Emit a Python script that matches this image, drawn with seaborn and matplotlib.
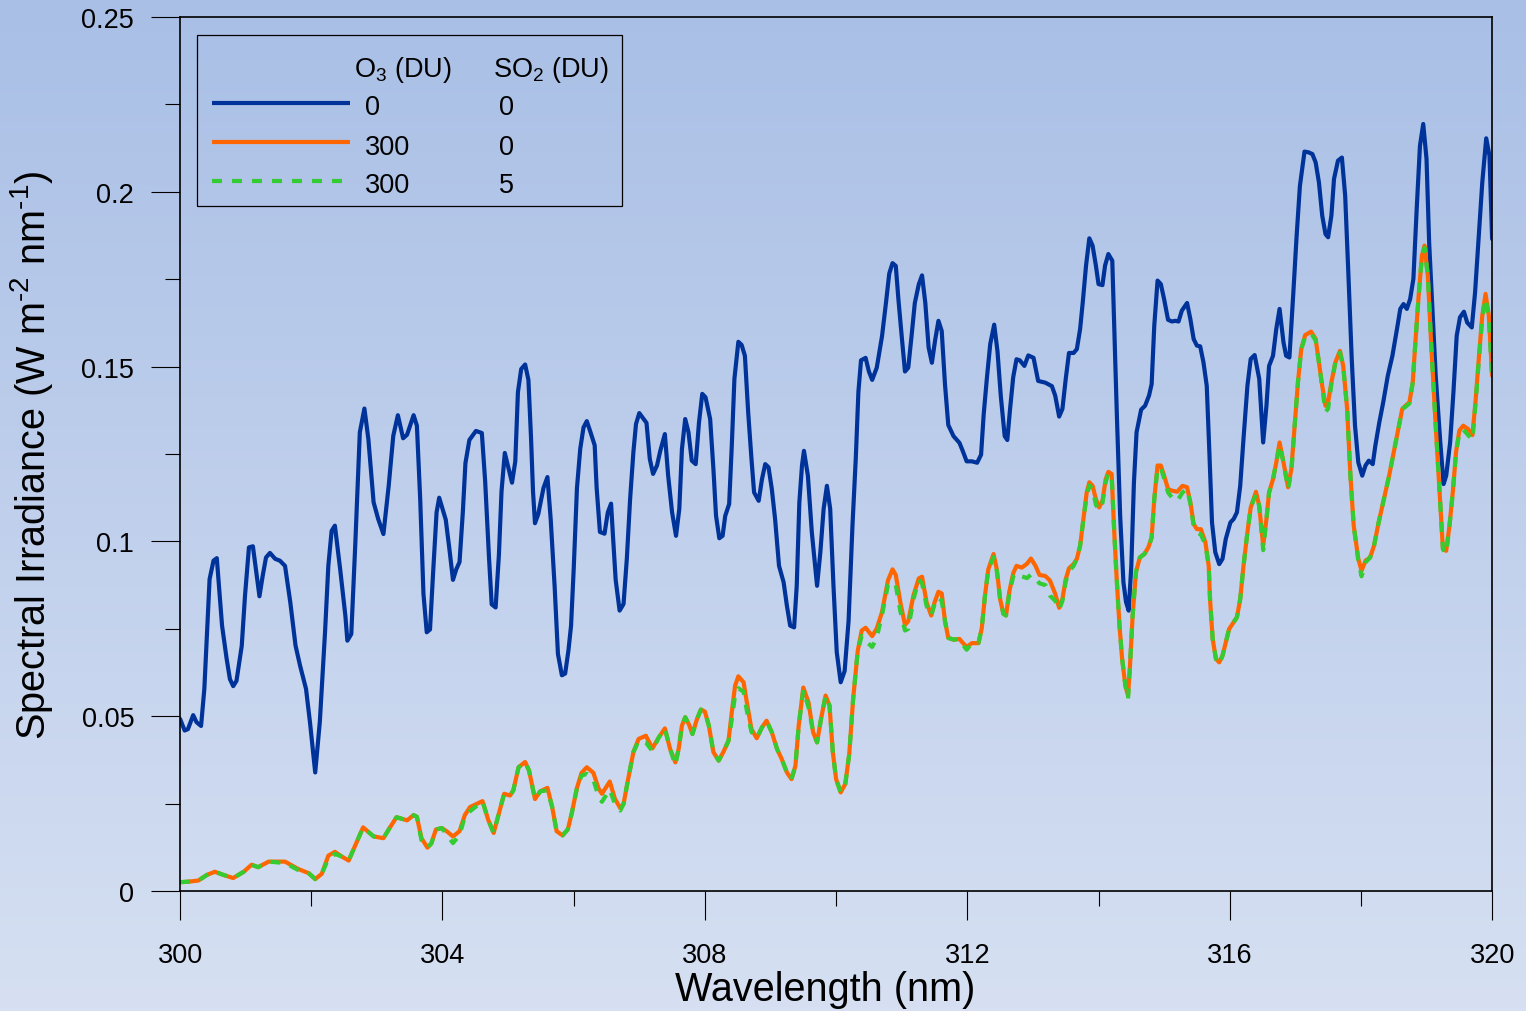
import matplotlib
matplotlib.use("Agg")
import matplotlib.pyplot as plt
import numpy as np
import pandas as pd
import seaborn as sns
from matplotlib.colors import LinearSegmentedColormap
from matplotlib.lines import Line2D
from matplotlib.patches import Rectangle
from matplotlib.ticker import FixedLocator, FuncFormatter

# --- data -------------------------------------------------------------------
# O3 = 0 DU, SO2 = 0 DU
BLUE_WL = [
    300.00, 300.07, 300.12, 300.20, 300.25, 300.32, 300.37, 300.45, 300.51, 300.56,
    300.64, 300.71, 300.76, 300.81, 300.86, 300.94, 300.99, 301.05, 301.11, 301.21,
    301.26, 301.31, 301.37, 301.45, 301.52, 301.60, 301.68, 301.76, 301.83, 301.92,
    301.98, 302.06, 302.13, 302.21, 302.26, 302.31, 302.36, 302.44, 302.52, 302.55,
    302.61, 302.67, 302.74, 302.81, 302.87, 302.95, 303.02, 303.10, 303.18, 303.25,
    303.32, 303.40, 303.46, 303.56, 303.61, 303.66, 303.71, 303.76, 303.81, 303.86,
    303.91, 303.95, 304.05, 304.11, 304.16, 304.21, 304.26, 304.31, 304.35, 304.41,
    304.51, 304.60, 304.65, 304.71, 304.75, 304.81, 304.86, 304.90, 304.95, 305.00,
    305.06, 305.11, 305.15, 305.20, 305.26, 305.31, 305.35, 305.38, 305.41, 305.46,
    305.54, 305.60, 305.65, 305.71, 305.76, 305.82, 305.87, 305.92, 305.96, 306.00,
    306.05, 306.10, 306.15, 306.20, 306.25, 306.32, 306.35, 306.40, 306.47, 306.52,
    306.57, 306.60, 306.64, 306.70, 306.76, 306.81, 306.86, 306.91, 306.95, 307.00,
    307.06, 307.11, 307.16, 307.21, 307.27, 307.32, 307.39, 307.44, 307.50, 307.56,
    307.61, 307.65, 307.70, 307.75, 307.80, 307.86, 307.91, 307.96, 308.01, 308.08,
    308.13, 308.17, 308.22, 308.27, 308.31, 308.37, 308.41, 308.45, 308.51, 308.56,
    308.61, 308.66, 308.71, 308.75, 308.82, 308.87, 308.92, 308.97, 309.02, 309.07,
    309.13, 309.20, 309.25, 309.30, 309.36, 309.40, 309.44, 309.48, 309.51, 309.57,
    309.63, 309.71, 309.76, 309.81, 309.86, 309.91, 309.96, 310.01, 310.07, 310.13,
    310.19, 310.25, 310.30, 310.34, 310.38, 310.45, 310.50, 310.55, 310.62, 310.70,
    310.76, 310.81, 310.86, 310.91, 310.95, 311.00, 311.05, 311.10, 311.15, 311.20,
    311.26, 311.31, 311.36, 311.41, 311.46, 311.51, 311.56, 311.61, 311.66, 311.71,
    311.79, 311.88, 311.93, 311.99, 312.07, 312.15, 312.21, 312.25, 312.30, 312.35,
    312.41, 312.46, 312.51, 312.57, 312.61, 312.65, 312.70, 312.75, 312.80, 312.87,
    312.93, 313.01, 313.08, 313.19, 313.29, 313.34, 313.40, 313.45, 313.50, 313.55,
    313.62, 313.67, 313.72, 313.76, 313.81, 313.86, 313.91, 313.96, 314.00, 314.06,
    314.10, 314.15, 314.21, 314.24, 314.28, 314.33, 314.38, 314.42, 314.46, 314.50,
    314.54, 314.58, 314.65, 314.71, 314.77, 314.81, 314.85, 314.90, 314.95, 315.00,
    315.06, 315.12, 315.17, 315.22, 315.27, 315.35, 315.40, 315.45, 315.50, 315.55,
    315.60, 315.65, 315.69, 315.73, 315.78, 315.84, 315.89, 315.94, 316.01, 316.06,
    316.11, 316.16, 316.21, 316.27, 316.32, 316.38, 316.45, 316.51, 316.56, 316.60,
    316.66, 316.71, 316.76, 316.82, 316.86, 316.91, 316.97, 317.02, 317.07, 317.14,
    317.20, 317.26, 317.31, 317.36, 317.41, 317.46, 317.50, 317.55, 317.59, 317.65,
    317.71, 317.76, 317.81, 317.86, 317.91, 317.96, 318.02, 318.07, 318.12, 318.18,
    318.22, 318.28, 318.34, 318.41, 318.48, 318.55, 318.60, 318.65, 318.70, 318.75,
    318.80, 318.85, 318.90, 318.95, 319.00, 319.04, 319.09, 319.14, 319.21, 319.26,
    319.30, 319.36, 319.41, 319.46, 319.51, 319.57, 319.62, 319.69, 319.74, 319.79,
    319.85, 319.91, 319.96, 320.00,
]
BLUE_IRR = [
    0.0492, 0.0459, 0.0463, 0.0503, 0.0483, 0.0472, 0.0578, 0.0892, 0.0945, 0.0952,
    0.0759, 0.0664, 0.0606, 0.0586, 0.0601, 0.0701, 0.0845, 0.0983, 0.0986, 0.0843,
    0.0902, 0.0954, 0.0967, 0.0950, 0.0945, 0.0930, 0.0826, 0.0702, 0.0644, 0.0578,
    0.0483, 0.0339, 0.0483, 0.0741, 0.0930, 0.1030, 0.1045, 0.0921, 0.0787, 0.0716,
    0.0735, 0.0988, 0.1312, 0.1380, 0.1293, 0.1112, 0.1064, 0.1021, 0.1159, 0.1302,
    0.1361, 0.1295, 0.1305, 0.1361, 0.1331, 0.1123, 0.0850, 0.0740, 0.0748, 0.0920,
    0.1083, 0.1125, 0.1062, 0.0971, 0.0890, 0.0920, 0.0941, 0.1083, 0.1224, 0.1290,
    0.1316, 0.1310, 0.1174, 0.0951, 0.0820, 0.0811, 0.0961, 0.1143, 0.1253, 0.1214,
    0.1168, 0.1229, 0.1427, 0.1493, 0.1506, 0.1462, 0.1295, 0.1143, 0.1052, 0.1078,
    0.1153, 0.1184, 0.1062, 0.0870, 0.0678, 0.0617, 0.0622, 0.0688, 0.0759, 0.0920,
    0.1153, 0.1265, 0.1326, 0.1344, 0.1316, 0.1275, 0.1153, 0.1027, 0.1022, 0.1083,
    0.1108, 0.1012, 0.0890, 0.0802, 0.0821, 0.0950, 0.1121, 0.1255, 0.1336, 0.1367,
    0.1352, 0.1339, 0.1236, 0.1193, 0.1217, 0.1259, 0.1307, 0.1188, 0.1083, 0.1016,
    0.1093, 0.1264, 0.1350, 0.1312, 0.1231, 0.1221, 0.1340, 0.1422, 0.1412, 0.1350,
    0.1207, 0.1073, 0.1009, 0.1016, 0.1073, 0.1107, 0.1274, 0.1465, 0.1571, 0.1562,
    0.1531, 0.1369, 0.1236, 0.1140, 0.1116, 0.1178, 0.1221, 0.1212, 0.1150, 0.1064,
    0.0930, 0.0883, 0.0816, 0.0759, 0.0754, 0.0873, 0.1112, 0.1217, 0.1259, 0.1188,
    0.1026, 0.0873, 0.0969, 0.1093, 0.1159, 0.1093, 0.0873, 0.0683, 0.0597, 0.0629,
    0.0772, 0.1047, 0.1237, 0.1428, 0.1518, 0.1525, 0.1486, 0.1462, 0.1497, 0.1587,
    0.1682, 0.1766, 0.1796, 0.1788, 0.1692, 0.1587, 0.1486, 0.1497, 0.1587, 0.1682,
    0.1735, 0.1761, 0.1682, 0.1555, 0.1511, 0.1576, 0.1631, 0.1602, 0.1449, 0.1333,
    0.1301, 0.1282, 0.1259, 0.1229, 0.1229, 0.1225, 0.1248, 0.1364, 0.1470, 0.1565,
    0.1620, 0.1544, 0.1417, 0.1301, 0.1290, 0.1375, 0.1470, 0.1521, 0.1518, 0.1502,
    0.1532, 0.1525, 0.1459, 0.1454, 0.1444, 0.1417, 0.1357, 0.1379, 0.1464, 0.1539,
    0.1539, 0.1550, 0.1608, 0.1684, 0.1789, 0.1867, 0.1846, 0.1789, 0.1736, 0.1733,
    0.1789, 0.1822, 0.1803, 0.1617, 0.1360, 0.1073, 0.0883, 0.0826, 0.0802, 0.0930,
    0.1169, 0.1312, 0.1377, 0.1388, 0.1417, 0.1450, 0.1617, 0.1746, 0.1736, 0.1693,
    0.1634, 0.1629, 0.1631, 0.1629, 0.1660, 0.1682, 0.1636, 0.1579, 0.1560, 0.1558,
    0.1512, 0.1445, 0.1255, 0.1054, 0.0969, 0.0935, 0.0950, 0.1007, 0.1054, 0.1064,
    0.1083, 0.1159, 0.1293, 0.1445, 0.1522, 0.1533, 0.1465, 0.1283, 0.1388, 0.1502,
    0.1531, 0.1608, 0.1665, 0.1569, 0.1531, 0.1526, 0.1712, 0.1874, 0.2017, 0.2115,
    0.2113, 0.2108, 0.2084, 0.2027, 0.1932, 0.1879, 0.1870, 0.1932, 0.2037, 0.2089,
    0.2098, 0.1989, 0.1760, 0.1522, 0.1331, 0.1226, 0.1188, 0.1217, 0.1231, 0.1221,
    0.1274, 0.1340, 0.1398, 0.1474, 0.1531, 0.1608, 0.1665, 0.1679, 0.1665, 0.1693,
    0.1751, 0.1950, 0.2132, 0.2194, 0.2094, 0.1855, 0.1665, 0.1474, 0.1283, 0.1164,
    0.1188, 0.1283, 0.1426, 0.1588, 0.1641, 0.1657, 0.1626, 0.1612, 0.1712, 0.1855,
    0.2027, 0.2153, 0.2103, 0.1865,
]

# O3 = 300 DU (SO2 = 0 and SO2 = 5 share this wavelength grid)
O3_WL = [
    300.00, 300.15, 300.28, 300.41, 300.53, 300.66, 300.81, 300.97, 301.09, 301.19,
    301.35, 301.60, 301.80, 301.96, 302.06, 302.16, 302.26, 302.36, 302.46, 302.57,
    302.69, 302.79, 302.95, 303.10, 303.20, 303.30, 303.46, 303.56, 303.61, 303.68,
    303.77, 303.83, 303.90, 303.99, 304.07, 304.16, 304.26, 304.34, 304.42, 304.61,
    304.70, 304.78, 304.86, 304.94, 305.03, 305.08, 305.16, 305.26, 305.32, 305.41,
    305.49, 305.60, 305.67, 305.74, 305.83, 305.91, 305.97, 306.05, 306.12, 306.20,
    306.30, 306.38, 306.43, 306.55, 306.63, 306.71, 306.76, 306.83, 306.91, 306.99,
    307.10, 307.20, 307.29, 307.39, 307.47, 307.55, 307.60, 307.65, 307.70, 307.76,
    307.81, 307.88, 307.94, 308.00, 308.06, 308.13, 308.21, 308.28, 308.36, 308.41,
    308.46, 308.51, 308.59, 308.64, 308.71, 308.79, 308.87, 308.94, 309.02, 309.10,
    309.17, 309.25, 309.32, 309.38, 309.43, 309.50, 309.58, 309.65, 309.71, 309.77,
    309.84, 309.90, 309.95, 310.00, 310.07, 310.14, 310.20, 310.26, 310.33, 310.39,
    310.45, 310.55, 310.62, 310.70, 310.79, 310.86, 310.91, 310.98, 311.05, 311.10,
    311.18, 311.26, 311.31, 311.38, 311.45, 311.50, 311.56, 311.61, 311.66, 311.71,
    311.79, 311.88, 311.93, 311.99, 312.07, 312.17, 312.22, 312.27, 312.32, 312.40,
    312.45, 312.50, 312.55, 312.59, 312.64, 312.70, 312.75, 312.83, 312.91, 312.97,
    313.04, 313.10, 313.19, 313.26, 313.34, 313.40, 313.45, 313.50, 313.55, 313.62,
    313.67, 313.72, 313.77, 313.82, 313.86, 313.91, 313.96, 314.01, 314.06, 314.11,
    314.15, 314.20, 314.24, 314.28, 314.32, 314.36, 314.41, 314.45, 314.48, 314.52,
    314.57, 314.63, 314.70, 314.76, 314.81, 314.85, 314.90, 314.95, 315.00, 315.06,
    315.12, 315.20, 315.28, 315.35, 315.40, 315.45, 315.50, 315.56, 315.63, 315.68,
    315.70, 315.74, 315.79, 315.84, 315.89, 315.94, 315.99, 316.06, 316.11, 316.16,
    316.21, 316.27, 316.32, 316.40, 316.45, 316.51, 316.56, 316.60, 316.66, 316.71,
    316.76, 316.82, 316.89, 316.94, 316.99, 317.04, 317.09, 317.15, 317.24, 317.31,
    317.36, 317.41, 317.46, 317.50, 317.55, 317.61, 317.68, 317.73, 317.79, 317.84,
    317.89, 317.96, 318.01, 318.07, 318.14, 318.20, 318.27, 318.35, 318.43, 318.50,
    318.57, 318.63, 318.68, 318.74, 318.79, 318.83, 318.88, 318.93, 318.97, 319.02,
    319.07, 319.14, 319.20, 319.25, 319.30, 319.35, 319.40, 319.45, 319.50, 319.56,
    319.63, 319.70, 319.75, 319.80, 319.85, 319.90, 319.95, 320.00,
]
O3_IRR = [
    0.0025, 0.0027, 0.0030, 0.0046, 0.0055, 0.0046, 0.0037, 0.0055, 0.0075, 0.0068,
    0.0084, 0.0084, 0.0063, 0.0051, 0.0034, 0.0049, 0.0101, 0.0112, 0.0099, 0.0087,
    0.0139, 0.0182, 0.0156, 0.0151, 0.0182, 0.0211, 0.0202, 0.0217, 0.0212, 0.0151,
    0.0124, 0.0136, 0.0176, 0.0180, 0.0170, 0.0156, 0.0171, 0.0217, 0.0240, 0.0257,
    0.0202, 0.0166, 0.0222, 0.0278, 0.0273, 0.0288, 0.0354, 0.0369, 0.0344, 0.0263,
    0.0285, 0.0295, 0.0242, 0.0171, 0.0159, 0.0176, 0.0222, 0.0295, 0.0338, 0.0354,
    0.0338, 0.0293, 0.0278, 0.0313, 0.0263, 0.0237, 0.0249, 0.0320, 0.0397, 0.0435,
    0.0444, 0.0408, 0.0437, 0.0465, 0.0406, 0.0368, 0.0406, 0.0473, 0.0497, 0.0475,
    0.0449, 0.0492, 0.0519, 0.0513, 0.0473, 0.0397, 0.0373, 0.0397, 0.0430, 0.0511,
    0.0587, 0.0614, 0.0597, 0.0539, 0.0463, 0.0437, 0.0468, 0.0487, 0.0454, 0.0406,
    0.0378, 0.0339, 0.0320, 0.0358, 0.0473, 0.0582, 0.0539, 0.0454, 0.0425, 0.0492,
    0.0559, 0.0530, 0.0397, 0.0320, 0.0282, 0.0306, 0.0391, 0.0550, 0.0687, 0.0745,
    0.0753, 0.0729, 0.0751, 0.0798, 0.0888, 0.0920, 0.0904, 0.0825, 0.0761, 0.0772,
    0.0846, 0.0894, 0.0899, 0.0825, 0.0788, 0.0825, 0.0856, 0.0851, 0.0772, 0.0724,
    0.0719, 0.0721, 0.0710, 0.0698, 0.0709, 0.0709, 0.0751, 0.0846, 0.0920, 0.0964,
    0.0920, 0.0835, 0.0793, 0.0788, 0.0856, 0.0909, 0.0930, 0.0925, 0.0936, 0.0951,
    0.0930, 0.0904, 0.0901, 0.0888, 0.0850, 0.0810, 0.0835, 0.0892, 0.0923, 0.0935,
    0.0950, 0.0988, 0.1064, 0.1140, 0.1169, 0.1159, 0.1121, 0.1097, 0.1116, 0.1178,
    0.1199, 0.1193, 0.1026, 0.0883, 0.0759, 0.0664, 0.0587, 0.0559, 0.0644, 0.0787,
    0.0912, 0.0954, 0.0964, 0.0983, 0.1011, 0.1121, 0.1217, 0.1217, 0.1188, 0.1150,
    0.1145, 0.1142, 0.1159, 0.1155, 0.1112, 0.1050, 0.1035, 0.1035, 0.0997, 0.0930,
    0.0835, 0.0721, 0.0664, 0.0654, 0.0673, 0.0711, 0.0749, 0.0769, 0.0783, 0.0835,
    0.0930, 0.1026, 0.1097, 0.1142, 0.1102, 0.0988, 0.1064, 0.1140, 0.1178, 0.1226,
    0.1283, 0.1226, 0.1155, 0.1207, 0.1331, 0.1455, 0.1550, 0.1590, 0.1600, 0.1579,
    0.1512, 0.1445, 0.1388, 0.1398, 0.1455, 0.1512, 0.1545, 0.1502, 0.1379, 0.1188,
    0.1045, 0.0950, 0.0916, 0.0945, 0.0954, 0.0988, 0.1054, 0.1121, 0.1188, 0.1255,
    0.1322, 0.1379, 0.1388, 0.1398, 0.1455, 0.1569, 0.1703, 0.1817, 0.1846, 0.1760,
    0.1569, 0.1331, 0.1140, 0.0978, 0.0973, 0.1045, 0.1140, 0.1255, 0.1317, 0.1331,
    0.1322, 0.1304, 0.1407, 0.1531, 0.1646, 0.1708, 0.1646, 0.1474,
]
O3_SO2_IRR = [
    0.0025, 0.0027, 0.0030, 0.0046, 0.0055, 0.0046, 0.0037, 0.0055, 0.0075, 0.0068,
    0.0084, 0.0080, 0.0060, 0.0051, 0.0034, 0.0049, 0.0092, 0.0106, 0.0099, 0.0087,
    0.0139, 0.0182, 0.0156, 0.0151, 0.0182, 0.0211, 0.0202, 0.0217, 0.0212, 0.0145,
    0.0124, 0.0136, 0.0176, 0.0180, 0.0160, 0.0137, 0.0160, 0.0212, 0.0228, 0.0257,
    0.0202, 0.0166, 0.0222, 0.0278, 0.0273, 0.0288, 0.0354, 0.0369, 0.0344, 0.0263,
    0.0285, 0.0288, 0.0242, 0.0171, 0.0159, 0.0176, 0.0222, 0.0295, 0.0330, 0.0335,
    0.0318, 0.0270, 0.0255, 0.0290, 0.0248, 0.0230, 0.0249, 0.0320, 0.0397, 0.0430,
    0.0425, 0.0400, 0.0437, 0.0465, 0.0406, 0.0360, 0.0406, 0.0473, 0.0497, 0.0475,
    0.0449, 0.0492, 0.0519, 0.0513, 0.0473, 0.0397, 0.0373, 0.0397, 0.0430, 0.0490,
    0.0560, 0.0580, 0.0570, 0.0515, 0.0455, 0.0437, 0.0468, 0.0487, 0.0454, 0.0406,
    0.0378, 0.0339, 0.0320, 0.0358, 0.0473, 0.0575, 0.0525, 0.0454, 0.0425, 0.0492,
    0.0559, 0.0530, 0.0397, 0.0320, 0.0282, 0.0306, 0.0391, 0.0550, 0.0687, 0.0730,
    0.0715, 0.0698, 0.0725, 0.0790, 0.0875, 0.0885, 0.0875, 0.0800, 0.0745, 0.0750,
    0.0835, 0.0890, 0.0880, 0.0815, 0.0788, 0.0820, 0.0840, 0.0830, 0.0772, 0.0724,
    0.0719, 0.0721, 0.0705, 0.0690, 0.0709, 0.0709, 0.0751, 0.0846, 0.0920, 0.0955,
    0.0915, 0.0835, 0.0793, 0.0788, 0.0850, 0.0900, 0.0910, 0.0900, 0.0895, 0.0905,
    0.0895, 0.0880, 0.0875, 0.0845, 0.0830, 0.0805, 0.0830, 0.0885, 0.0915, 0.0930,
    0.0950, 0.0988, 0.1064, 0.1130, 0.1160, 0.1150, 0.1105, 0.1090, 0.1110, 0.1170,
    0.1195, 0.1190, 0.1026, 0.0883, 0.0759, 0.0664, 0.0587, 0.0550, 0.0644, 0.0787,
    0.0912, 0.0954, 0.0964, 0.0983, 0.1011, 0.1121, 0.1210, 0.1210, 0.1180, 0.1140,
    0.1125, 0.1115, 0.1140, 0.1150, 0.1108, 0.1045, 0.1025, 0.1020, 0.0990, 0.0930,
    0.0835, 0.0721, 0.0664, 0.0648, 0.0673, 0.0711, 0.0749, 0.0769, 0.0783, 0.0835,
    0.0930, 0.1026, 0.1097, 0.1135, 0.1102, 0.0975, 0.1064, 0.1140, 0.1178, 0.1226,
    0.1275, 0.1226, 0.1150, 0.1200, 0.1331, 0.1455, 0.1550, 0.1585, 0.1595, 0.1575,
    0.1512, 0.1440, 0.1370, 0.1380, 0.1450, 0.1512, 0.1540, 0.1500, 0.1379, 0.1188,
    0.1045, 0.0945, 0.0900, 0.0940, 0.0954, 0.0988, 0.1054, 0.1121, 0.1188, 0.1255,
    0.1322, 0.1379, 0.1385, 0.1395, 0.1455, 0.1569, 0.1703, 0.1817, 0.1840, 0.1760,
    0.1569, 0.1331, 0.1140, 0.0978, 0.0965, 0.1045, 0.1140, 0.1255, 0.1310, 0.1320,
    0.1305, 0.1290, 0.1400, 0.1525, 0.1640, 0.1695, 0.1640, 0.1465,
]

LEGEND_O3 = ["0", "300", "300"]
LEGEND_SO2 = ["0", "0", "5"]
X_TICKS = [300, 304, 308, 312, 316, 320]
X_MINOR = [302, 306, 310, 314, 318]
Y_TICKS = [0, 0.05, 0.1, 0.15, 0.2, 0.25]
Y_MINOR = [0.025, 0.075, 0.125, 0.175, 0.225]

BLUE = "#003399"
ORANGE = "#FF6600"
GREEN = "#33CC33"

# --- style --------------------------------------------------------------------
sns.set_theme(style="ticks")
plt.rcParams["font.family"] = ["Liberation Sans", "DejaVu Sans"]
plt.rcParams["mathtext.fontset"] = "custom"
plt.rcParams["mathtext.rm"] = "Liberation Sans"
plt.rcParams["mathtext.it"] = "Liberation Sans:italic"
plt.rcParams["mathtext.bf"] = "Liberation Sans:bold"

fig = plt.figure(figsize=(15.26, 10.12), dpi=100)

# vertical background gradient behind everything
bg = fig.add_axes([0, 0, 1, 1], zorder=-1)
grad = np.linspace(0, 1, 256).reshape(-1, 1)
bg.imshow(grad, aspect="auto", extent=[0, 1, 0, 1],
          cmap=LinearSegmentedColormap.from_list("bg", ["#A9BFE6", "#D6E0F2"]))
bg.axis("off")

ax = fig.add_axes([0.118, 0.1186, 0.8598, 0.8636])
ax.patch.set_alpha(0)

blue_df = pd.DataFrame({"wl": BLUE_WL, "irr": BLUE_IRR})
o3_df = pd.DataFrame({"wl": O3_WL, "irr": O3_IRR, "irr_so2": O3_SO2_IRR})

sns.lineplot(data=blue_df, x="wl", y="irr", ax=ax, color=BLUE, lw=3.0,
             estimator=None, sort=False)
sns.lineplot(data=o3_df, x="wl", y="irr", ax=ax, color=ORANGE, lw=3.0,
             estimator=None, sort=False)
sns.lineplot(data=o3_df, x="wl", y="irr_so2", ax=ax, color=GREEN, lw=3.0,
             estimator=None, sort=False)
ax.lines[-1].set_dashes([2.4, 2.4])

ax.set_xlim(300, 320)
ax.set_ylim(0, 0.25)
ax.xaxis.set_major_locator(FixedLocator(X_TICKS))
ax.xaxis.set_minor_locator(FixedLocator(X_MINOR))
ax.yaxis.set_major_locator(FixedLocator(Y_TICKS))
ax.yaxis.set_minor_locator(FixedLocator(Y_MINOR))
ax.yaxis.set_major_formatter(FuncFormatter(lambda v, _: f"{v:g}"))

ax.tick_params(axis="both", which="major", direction="out", length=21,
               width=0.8, color="black", labelsize=19.5, labelcolor="black")
ax.tick_params(axis="both", which="minor", direction="out", length=10.5,
               width=0.8, color="black")
ax.tick_params(axis="x", which="major", pad=15.5)
ax.tick_params(axis="y", which="major", pad=12)

for side in ["left", "right", "top", "bottom"]:
    ax.spines[side].set_visible(True)
    ax.spines[side].set_color("black")
    ax.spines[side].set_linewidth(1.2)

ax.set_xlabel("Wavelength (nm)", fontsize=28.5, color="black")
ax.set_ylabel("Spectral Irradiance (W m$^{\u2010\\mathregular{2}}$ nm$^{\u2010\\mathregular{1}}$)",
              fontsize=28.5, color="black")
ax.xaxis.set_label_coords(0.492, -0.090)
ax.yaxis.set_label_coords(-0.095, 0.5)

# --- legend table drawn inside the axes --------------------------------------
ax.add_patch(Rectangle((0.013, 0.784), 0.324, 0.195, transform=ax.transAxes,
                       fill=False, edgecolor="black", lw=0.9, zorder=5))
txt = dict(transform=ax.transAxes, fontsize=19.5, color="black",
           va="baseline", ha="left", zorder=6)
ax.text(0.1326, 0.9330, r"O$_3$ (DU)", **txt)
ax.text(0.2386, 0.9330, r"SO$_2$ (DU)", **txt)

handle_y = [0.9012, 0.8566, 0.8120]
text_y = [0.8890, 0.8432, 0.7994]
handle_styles = [(BLUE, None, 0.1296), (ORANGE, None, 0.1296), (GREEN, [2.4, 2.4], 0.1242)]
for (col, dash, x_end), hy, ty, o3, so2 in zip(handle_styles, handle_y, text_y,
                                               LEGEND_O3, LEGEND_SO2):
    h = Line2D([0.0244, x_end], [hy, hy], transform=ax.transAxes, color=col,
               lw=3.0, solid_capstyle="butt", dash_capstyle="butt", zorder=6)
    if dash:
        h.set_dashes(dash)
    ax.add_line(h)
    ax.text(0.141, ty, o3, **txt)
    ax.text(0.2431, ty, so2, **txt)

fig.savefig("out.png", dpi=100)
